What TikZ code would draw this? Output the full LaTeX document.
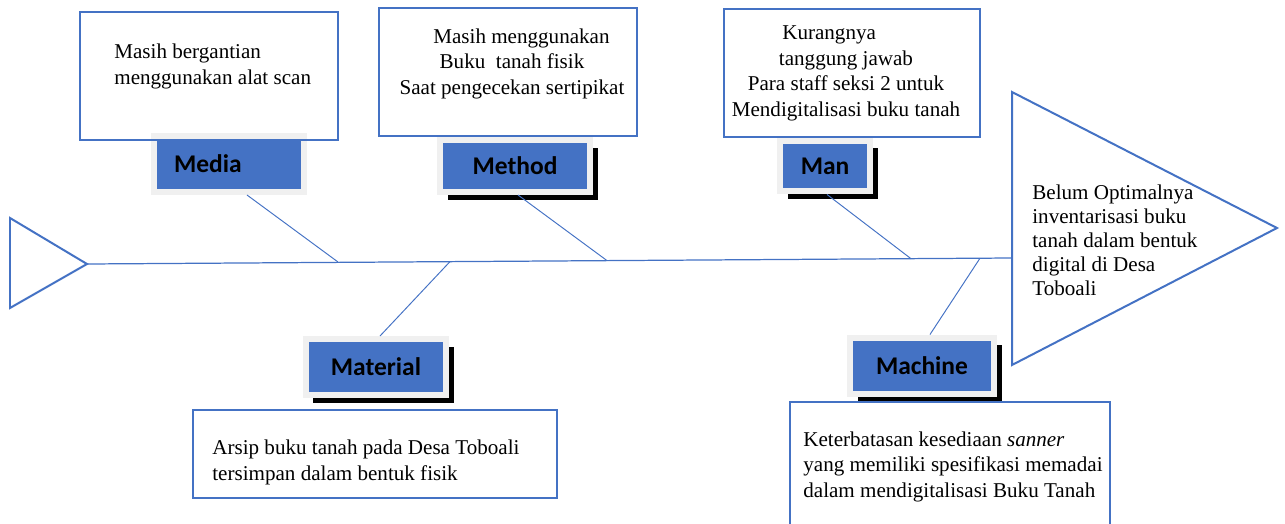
\documentclass[tikz,border=0pt]{standalone}
\usepackage{fontspec}
\setmainfont{Liberation Serif}
\newfontfamily\labelfont{Carlito}
\usetikzlibrary{shadows}
\definecolor{fishblue}{HTML}{4472C4}
\definecolor{framegray}{HTML}{F0F0F0}

\begin{document}
\begin{tikzpicture}[x=0.02cm, y=-0.02cm,
    boxline/.style={draw=fishblue, line width=0.04cm},
    spine/.style={draw=fishblue, line width=0.7pt},
    bone/.style={draw=fishblue, line width=0.55pt},
    category/.style={fill=fishblue, draw=framegray, line width=0.12cm, inner sep=0pt,
        text=black, font=\labelfont\bfseries\fontsize{14.5}{17}\selectfont},
    shadowed/.style={drop shadow={fill=black, opacity=1, shadow xshift=4.3pt, shadow yshift=-4.5pt}},
    causetext/.style={inner sep=0pt, align=left, font=\fontsize{12}{14.5}\selectfont}]
    \useasboundingbox (0,0) rectangle (1285,524);

    % Tail and head of the fish
    \draw[boxline, line join=miter] (10,218) -- (87,264) -- (10,308) -- cycle;
    \coordinate (tailtip) at (87,264);
    \draw[boxline, line join=miter] (1012,92) -- (1277,228) -- (1012,365) -- cycle;
    \coordinate (headbase) at (1012,258);
    \node[causetext, anchor=base west, font=\fontsize{12}{13.6}\selectfont] (problem) at (1032,295)
        {Belum Optimalnya\\inventarisasi buku\\tanah dalam bentuk\\digital di Desa\\Toboali};

    % Spine
    \draw[spine] (tailtip) -- (headbase);
    \coordinate (mediajoint) at (338,262);
    \coordinate (methodjoint) at (607,260.6);
    \coordinate (manjoint) at (911,258.7);
    \coordinate (materialjoint) at (450,261.6);
    \coordinate (machinejoint) at (980,258.2);

    % Categories
    \node[category, minimum width=3cm, minimum height=1.12cm] (media) at (229,164) {Media\hspace*{24pt}};
    \node[category, shadowed, minimum width=3cm, minimum height=1.04cm] (method) at (515,166) {Method};
    \node[category, shadowed, minimum width=1.8cm, minimum height=1.02cm] (man) at (825,166) {Man};
    \node[category, shadowed, minimum width=2.82cm, minimum height=1.12cm] (material) at (376,367) {Material};
    \node[category, shadowed, minimum width=2.88cm, minimum height=1.14cm] (machine) at (922,366) {Machine};

    % Bones
    \draw[bone] ([xshift=0.36cm]media.south) -- (mediajoint);
    \draw[bone] ([xshift=0.06cm]method.south) -- (methodjoint);
    \draw[bone] ([xshift=0.04cm]man.south) -- (manjoint);
    \draw[bone] ([xshift=0.08cm]material.north) -- (materialjoint);
    \draw[bone] ([xshift=0.16cm]machine.north) -- (machinejoint);

    % Causes
    \draw[boxline] (80,12) rectangle (338,140);
    \node[causetext, anchor=base west] (mediatext) at (114,84)
        {Masih bergantian\\menggunakan alat scan};
    \draw[boxline] (379,8) rectangle (637,136);
    \node[causetext, align=center, anchor=base] (methodtext) at (512,94)
        {\hspace*{0.9em}Masih menggunakan\\Buku\ \ tanah fisik\\Saat pengecekan sertipikat};
    \draw[boxline] (724,9) rectangle (980,137);
    \node[causetext, align=center, anchor=base] (mantext) at (846,116)
        {Kurangnya\hspace*{1.6em}\\tanggung jawab\hspace*{1.3em}\\Para staff seksi 2 untuk\\Mendigitalisasi buku tanah};
    \draw[boxline] (193,410) rectangle (557,498);
    \node[causetext, anchor=base west] (materialtext) at (212,480)
        {Arsip buku tanah pada Desa Toboali\\tersimpan dalam bentuk fisik};
    \draw[boxline] (790,530) -- (790,402) -- (1110,402) -- (1110,530);
    \node[causetext, anchor=base west] (machinetext) at (803,497)
        {Keterbatasan kesediaan \textit{sanner}\\yang memiliki spesifikasi memadai\\dalam mendigitalisasi Buku Tanah};
\end{tikzpicture}
\end{document}
